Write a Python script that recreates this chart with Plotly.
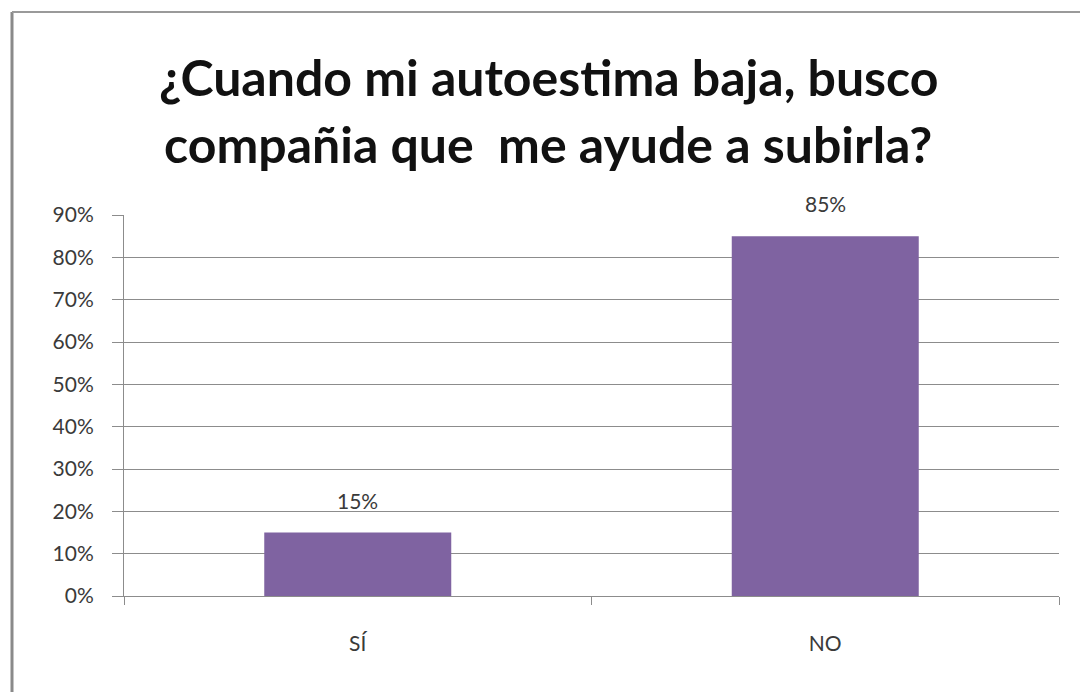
import plotly.graph_objects as go

# Survey responses
categorias = ["SÍ", "NO"]
porcentajes = [0.15, 0.85]
etiquetas = ["15%", "85%"]
y_ticks = [0, 0.1, 0.2, 0.3, 0.4, 0.5, 0.6, 0.7, 0.8, 0.9]
y_labels = ["0%", "10%", "20%", "30%", "40%", "50%", "60%", "70%", "80%", "90%"]

titulo_lineas = ["¿Cuando mi autoestima baja, busco", "compañia que  me ayude a subirla?"]

font_family = "Lato, 'Open Sans', sans-serif"
bar_color = "#7F63A1"
grid_color = "#8C8C8C"
text_color = "#3A3A3A"

fig = go.Figure()
fig.add_trace(go.Bar(
    x=categorias,
    y=porcentajes,
    width=0.4,
    marker=dict(color=bar_color, line=dict(width=0)),
    hoverinfo="skip",
))

# value labels above each bar
for cat, val, lab in zip(categorias, porcentajes, etiquetas):
    fig.add_annotation(
        x=cat, y=val, text=lab, showarrow=False,
        yanchor="bottom", yshift=18,
        font=dict(family=font_family, size=21, color=text_color),
    )

# Plot area spans x 124..1059 px, y 215..596 px
px_l, px_r, px_t, px_b = 124, 1059, 215, 596
def to_paper_x(px):
    return (px - px_l) / (px_r - px_l)
def to_paper_y(py):
    return (px_b - py) / (px_b - px_t)

# two-line chart title
for linea, centro_y in zip(titulo_lineas, [77, 144]):
    fig.add_annotation(
        xref="paper", yref="paper",
        x=to_paper_x(548), y=to_paper_y(centro_y),
        xanchor="center", yanchor="middle",
        text=linea, showarrow=False,
        font=dict(family=font_family, size=50, color="#111111", weight="bold"),
    )

# outer frame
frame_x = to_paper_x(12)
frame_y = to_paper_y(12)
fig.add_shape(type="line", xref="paper", yref="paper",
              x0=frame_x, x1=frame_x, y0=to_paper_y(700), y1=frame_y,
              line=dict(color="#8A8A8A", width=3))
fig.add_shape(type="line", xref="paper", yref="paper",
              x0=frame_x, x1=to_paper_x(1090), y0=frame_y, y1=frame_y,
              line=dict(color="#9A9A9A", width=2))

fig.update_layout(
    width=1080, height=692,
    margin=dict(l=px_l, r=1080 - px_r, t=px_t, b=692 - px_b),
    paper_bgcolor="white",
    plot_bgcolor="white",
    showlegend=False,
    xaxis=dict(
        type="category",
        showgrid=False,
        showline=True, linecolor=grid_color, linewidth=1,
        ticks="outside", tickson="boundaries", ticklen=8,
        tickcolor=grid_color,
        ticklabelstandoff=29,
        tickfont=dict(family=font_family, size=21, color=text_color),
        range=[-0.5, 1.5],
    ),
    yaxis=dict(
        range=[0, 0.9],
        tickvals=y_ticks, ticktext=y_labels,
        showgrid=True, gridcolor=grid_color, gridwidth=1,
        showline=True, linecolor=grid_color, linewidth=1,
        ticks="outside", ticklen=11, tickcolor=grid_color,
        ticklabelstandoff=14,
        tickfont=dict(family=font_family, size=21, color=text_color),
        zeroline=False,
    ),
)

fig.write_html("out.html")
